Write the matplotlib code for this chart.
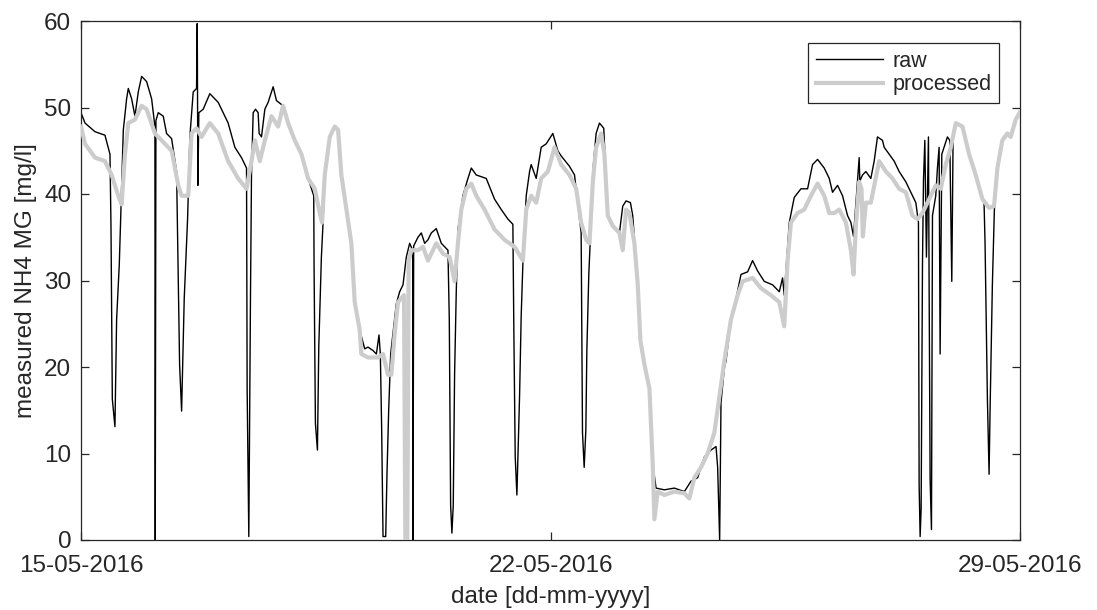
import pandas as pd
import matplotlib
matplotlib.use('Agg')
import matplotlib.pyplot as plt
import matplotlib.dates as mdates

plt.rcParams['font.family'] = ['Liberation Sans', 'DejaVu Sans']

# ---- data (days since 15-05-2016 00:00, NH4 in mg/l)
start = pd.Timestamp('2016-05-15')

proc_days = [0.000, 0.060, 0.209, 0.357, 0.457, 0.556, 0.606, 0.655, 0.705, 0.804,
             0.904, 0.978, 1.102, 1.202, 1.351, 1.450, 1.500, 1.599, 1.648, 1.723,
             1.797, 1.921, 2.045, 2.194, 2.343, 2.468, 2.542, 2.592, 2.666, 2.741,
             2.840, 2.939, 3.013, 3.088, 3.187, 3.287, 3.386, 3.485, 3.560, 3.594,
             3.634, 3.709, 3.783, 3.833, 3.882, 3.957, 4.031, 4.081, 4.155, 4.180,
             4.279, 4.428, 4.503, 4.577, 4.627, 4.677, 4.726, 4.816, 4.836, 4.865,
             4.885, 4.925, 5.024, 5.099, 5.173, 5.297, 5.397, 5.496, 5.570, 5.620,
             5.670, 5.744, 5.819, 5.893, 6.017, 6.166, 6.315, 6.464, 6.588, 6.638,
             6.712, 6.787, 6.861, 6.961, 7.060, 7.159, 7.283, 7.383, 7.457, 7.532,
             7.581, 7.631, 7.680, 7.755, 7.804, 7.854, 7.928, 8.028, 8.077, 8.127,
             8.177, 8.251, 8.301, 8.340, 8.400, 8.475, 8.524, 8.549, 8.599, 8.698,
             8.847, 8.996, 9.070, 9.145, 9.244, 9.343, 9.443, 9.517, 9.592, 9.691,
             9.790, 9.865, 10.013, 10.138, 10.287, 10.411, 10.485, 10.535, 10.585, 10.684,
             10.783, 10.883, 10.982, 11.081, 11.156, 11.230, 11.305, 11.404, 11.479, 11.518,
             11.553, 11.602, 11.637, 11.657, 11.702, 11.776, 11.900, 12.000, 12.099, 12.198,
             12.298, 12.397, 12.471, 12.546, 12.620, 12.695, 12.744, 12.819, 12.893, 12.968,
             13.043, 13.142, 13.241, 13.340, 13.440, 13.539, 13.613, 13.663, 13.737, 13.811,
             13.861, 13.936, 13.995]
proc_vals = [47.8, 45.8, 44.2, 43.8, 42.2, 39.8, 38.8, 44.6, 48.2, 48.6,
             50.2, 49.8, 47.0, 46.2, 45.0, 41.0, 39.8, 39.8, 47.0, 47.6,
             46.6, 48.2, 47.0, 43.8, 41.8, 40.6, 43.8, 46.2, 43.8, 46.2,
             49.0, 47.8, 50.2, 48.2, 46.2, 44.6, 41.8, 40.6, 37.8, 36.7,
             42.2, 46.6, 47.8, 47.4, 42.2, 38.2, 34.3, 27.5, 24.3, 21.5,
             21.1, 21.1, 21.5, 19.1, 19.1, 23.9, 27.5, 28.3, 0.0, 0.0,
             32.3, 33.5, 33.5, 33.9, 32.3, 34.3, 33.1, 32.7, 29.9, 34.3,
             38.2, 40.6, 41.2, 39.8, 38.2, 35.9, 34.7, 33.9, 32.3, 38.2,
             39.8, 39.0, 41.8, 42.6, 45.4, 43.4, 42.2, 40.6, 36.7, 34.7,
             34.3, 41.4, 45.4, 47.0, 44.6, 37.5, 36.3, 35.5, 33.5, 38.2,
             37.8, 34.3, 29.5, 23.1, 20.3, 17.5, 8.8, 2.4, 5.6, 5.2,
             5.6, 5.4, 4.8, 7.2, 8.4, 10.0, 12.4, 16.5, 20.7, 25.5,
             28.3, 29.9, 30.3, 29.1, 28.3, 27.5, 24.7, 32.3, 36.7, 37.8,
             38.2, 39.8, 41.2, 39.8, 37.8, 37.8, 38.2, 36.7, 33.5, 30.7,
             36.3, 41.4, 40.6, 35.1, 39.0, 39.0, 43.8, 42.6, 41.8, 40.6,
             40.2, 37.5, 37.1, 37.8, 39.0, 40.2, 41.0, 40.6, 43.4, 45.4,
             48.2, 47.8, 44.6, 42.2, 39.4, 38.4, 38.6, 43.0, 46.2, 47.0,
             46.6, 48.6, 49.4]

raw_days = [0.000, 0.060, 0.209, 0.357, 0.432, 0.447, 0.467, 0.506, 0.531, 0.571,
            0.596, 0.631, 0.680, 0.705, 0.755, 0.804, 0.854, 0.904, 0.978, 1.053,
            1.102, 1.107, 1.117, 1.152, 1.226, 1.276, 1.351, 1.425, 1.450, 1.470,
            1.500, 1.539, 1.589, 1.623, 1.673, 1.723, 1.733, 1.743, 1.757, 1.822,
            1.921, 2.045, 2.194, 2.294, 2.393, 2.468, 2.477, 2.502, 2.527, 2.542,
            2.567, 2.602, 2.641, 2.656, 2.691, 2.741, 2.790, 2.865, 2.914, 3.013,
            3.088, 3.187, 3.287, 3.386, 3.470, 3.475, 3.495, 3.525, 3.545, 3.584,
            3.609, 3.634, 3.709, 3.783, 3.833, 3.882, 3.957, 4.031, 4.081, 4.155,
            4.230, 4.279, 4.354, 4.404, 4.443, 4.463, 4.483, 4.503, 4.543, 4.562,
            4.587, 4.617, 4.701, 4.751, 4.801, 4.850, 4.900, 4.945, 4.950, 4.960,
            5.024, 5.074, 5.124, 5.173, 5.223, 5.297, 5.372, 5.421, 5.471, 5.491,
            5.511, 5.530, 5.550, 5.570, 5.595, 5.620, 5.694, 5.769, 5.819, 5.893,
            5.968, 6.042, 6.166, 6.266, 6.365, 6.439, 6.454, 6.474, 6.499, 6.539,
            6.563, 6.588, 6.638, 6.688, 6.712, 6.787, 6.861, 6.936, 7.035, 7.109,
            7.159, 7.283, 7.358, 7.457, 7.477, 7.502, 7.527, 7.542, 7.571, 7.591,
            7.631, 7.680, 7.730, 7.794, 7.854, 7.928, 8.028, 8.077, 8.127, 8.192,
            8.226, 8.301, 8.340, 8.400, 8.475, 8.524, 8.574, 8.698, 8.847, 8.996,
            9.095, 9.194, 9.294, 9.393, 9.468, 9.492, 9.522, 9.542, 9.592, 9.617,
            9.691, 9.766, 9.840, 9.939, 10.013, 10.088, 10.187, 10.311, 10.411, 10.460,
            10.485, 10.560, 10.634, 10.734, 10.833, 10.907, 10.982, 11.081, 11.156, 11.205,
            11.280, 11.354, 11.429, 11.479, 11.518, 11.602, 11.612, 11.652, 11.702, 11.776,
            11.826, 11.875, 11.950, 11.975, 12.049, 12.124, 12.198, 12.298, 12.372, 12.447,
            12.486, 12.496, 12.511, 12.526, 12.546, 12.561, 12.581, 12.605, 12.635, 12.645,
            12.660, 12.680, 12.695, 12.744, 12.769, 12.794, 12.809, 12.834, 12.868, 12.918,
            12.953, 12.983, 13.003, 13.043, 13.142, 13.241, 13.340, 13.440, 13.464, 13.479,
            13.514, 13.539, 13.554, 13.588, 13.618, 13.663, 13.737, 13.811, 13.861, 13.936,
            13.995]
raw_vals = [49.4, 48.2, 47.2, 46.8, 44.6, 36.3, 16.3, 13.1, 25.5, 31.9,
            38.4, 47.4, 51.0, 52.2, 51.0, 49.0, 51.8, 53.6, 53.0, 51.0,
            47.8, 0.0, 48.5, 49.4, 49.0, 47.0, 46.4, 42.6, 30.3, 20.3,
            14.9, 27.9, 37.1, 46.6, 51.8, 52.2, 59.7, 41.0, 49.4, 49.8,
            51.6, 50.6, 48.2, 45.4, 44.2, 43.0, 17.5, 0.4, 28.3, 42.2,
            49.4, 49.8, 49.4, 47.0, 46.6, 49.8, 50.6, 52.4, 50.8, 50.2,
            48.2, 46.2, 44.6, 41.8, 39.8, 31.5, 13.5, 10.4, 22.3, 32.7,
            36.7, 42.2, 46.6, 47.8, 47.4, 42.2, 38.2, 34.3, 27.5, 24.3,
            22.1, 22.3, 21.9, 21.5, 23.7, 21.5, 12.7, 0.4, 0.4, 7.6,
            14.9, 21.5, 27.3, 28.7, 29.5, 32.7, 34.3, 33.5, 0.0, 34.0,
            35.0, 35.5, 34.3, 34.7, 35.5, 36.0, 34.3, 33.9, 33.5, 25.5,
            4.0, 0.8, 4.0, 19.1, 28.7, 35.9, 39.8, 41.8, 43.0, 42.2,
            42.0, 41.8, 39.4, 38.2, 37.1, 36.5, 23.9, 9.6, 5.2, 16.7,
            25.9, 31.9, 39.8, 42.6, 43.4, 41.8, 45.4, 45.8, 47.0, 45.0,
            44.4, 43.2, 42.2, 35.5, 12.4, 8.4, 12.7, 21.9, 30.7, 34.3,
            42.6, 47.0, 48.2, 47.6, 37.5, 36.3, 35.5, 38.6, 39.2, 39.0,
            37.5, 29.5, 23.1, 20.3, 17.5, 8.8, 6.0, 5.8, 6.0, 5.6,
            6.8, 7.2, 9.6, 10.4, 10.8, 8.4, 0.0, 15.9, 19.9, 20.7,
            25.5, 27.9, 30.7, 31.0, 32.3, 31.1, 29.9, 29.5, 28.7, 30.3,
            28.3, 36.7, 39.6, 40.6, 40.6, 43.4, 44.0, 43.0, 41.8, 40.2,
            41.0, 39.8, 37.5, 36.7, 35.1, 44.2, 41.5, 42.2, 42.6, 41.8,
            43.8, 46.6, 46.2, 45.4, 44.6, 43.8, 42.6, 41.4, 40.2, 39.0,
            36.7, 6.4, 0.4, 3.6, 31.9, 41.6, 46.2, 32.7, 46.6, 29.5,
            7.0, 1.2, 37.5, 39.8, 43.0, 45.4, 21.5, 44.6, 45.4, 46.6,
            46.2, 29.9, 47.0, 48.2, 47.8, 44.6, 42.2, 39.4, 39.0, 34.3,
            16.3, 7.6, 15.1, 29.5, 38.2, 43.0, 46.2, 47.0, 46.6, 48.6,
            49.4]

tick_dates = ['2016-05-15', '2016-05-22', '2016-05-29']

#---- build time axes
proc_time = start + pd.to_timedelta(proc_days, unit='D')
raw_time = start + pd.to_timedelta(raw_days, unit='D')

#---- plot
fig = plt.figure(figsize=(10.97, 6.10), dpi=100)
ax = fig.add_axes([81 / 1097, 70 / 610, 939 / 1097, 519 / 610])

ax.plot(raw_time, raw_vals, color='black', lw=1.0, label='raw', zorder=2)
ax.plot(proc_time, proc_vals, color='#cccccc', lw=3.0, label='processed', zorder=3)

ax.set_xlim(pd.Timestamp(tick_dates[0]), pd.Timestamp(tick_dates[-1]))
ax.set_ylim(0, 60)
ax.set_xticks(pd.to_datetime(tick_dates))
ax.xaxis.set_major_formatter(mdates.DateFormatter('%d-%m-%Y'))
ax.set_yticks(range(0, 61, 10))

dark = '#262626'
for s in ax.spines.values():
    s.set_color(dark)
    s.set_linewidth(0.9)
ax.tick_params(direction='in', length=6, width=0.9, color=dark, labelcolor=dark,
               labelsize=17.5, top=True, right=True)
ax.tick_params(axis='x', pad=11)
ax.tick_params(axis='y', pad=7)

ax.set_xlabel('date [dd-mm-yyyy]', fontsize=17.5, color=dark)
ax.set_ylabel('measured NH4 MG [mg/l]', fontsize=17.5, color=dark)
ax.xaxis.set_label_coords(0.5, -0.088)
ax.yaxis.set_label_coords(-0.047, 0.5)

leg = ax.legend(loc='upper right', bbox_to_anchor=(0.9776, 0.9576), borderaxespad=0,
                fontsize=15.5, frameon=True, fancybox=False, framealpha=1,
                edgecolor=dark, handlelength=3.1, handletextpad=0.45,
                labelspacing=0.12, borderpad=0.35)
leg.get_frame().set_linewidth(0.9)
for t in leg.get_texts():
    t.set_color(dark)

fig.savefig('out.png', dpi=100)
